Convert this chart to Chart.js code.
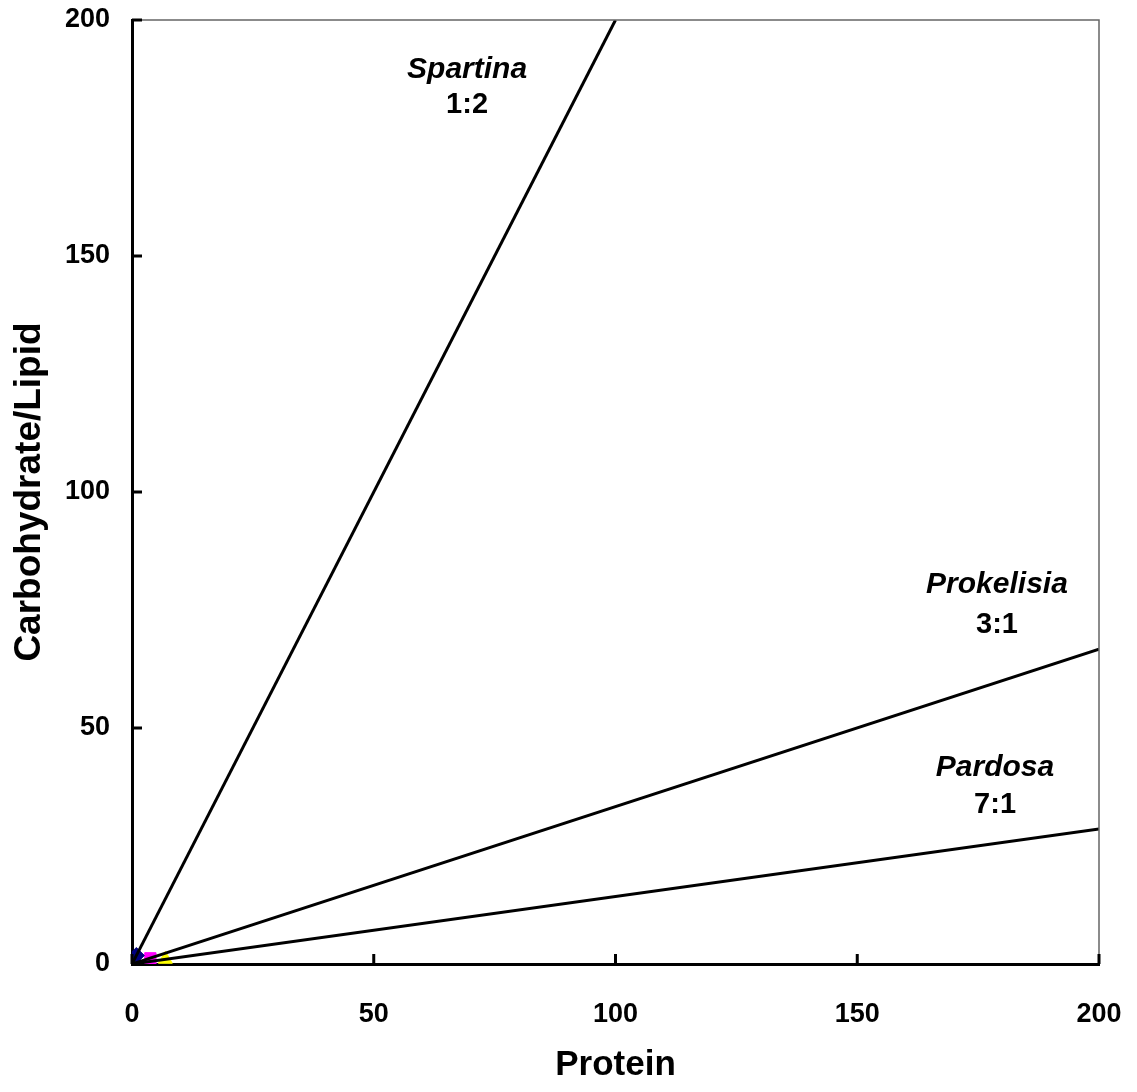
<!DOCTYPE html>
<html>
<head>
<meta charset="utf-8">
<script src="https://cdn.jsdelivr.net/npm/chart.js@4.4.1/dist/chart.umd.min.js"></script>
<style>
  html, body { margin: 0; padding: 0; background: #fff; }
  #wrap { width: 1137px; height: 1092px; }
</style>
</head>
<body>
<div id="wrap"><canvas id="ratioChart"></canvas></div>
<script>
// ratio lines: protein vs carbohydrate/lipid, from the origin out to the frame
const lineNames = ['Spartina', 'Prokelisia', 'Pardosa'];
const ratioLabels = ['1:2', '3:1', '7:1'];
const lineEndX = [100, 200, 200];
const lineEndY = [200, 66.7, 28.6];

// measured samples near the origin
const sampleX = [0.9, 3.8, 6.9];
const sampleY = [1.8, 1.2, 1.0];
const sampleColors = ['#000080', '#ff00ff', '#ffff00'];
const sampleShapes = ['rectRot', 'rect', 'triangle'];

// where the name / ratio text sits (data units)
const labelX = [69.3, 178.9, 178.5];
const nameY = [189.5, 80.3, 41.5];
const ratioY = [182, 71.8, 33.7];

const tickValues = [0, 50, 100, 150, 200];

const datasets = [];
lineNames.forEach((name, i) => {
    datasets.push({
        label: name,
        data: [{ x: 0, y: 0 }, { x: lineEndX[i], y: lineEndY[i] }],
        borderColor: '#000',
        borderWidth: 3,
        pointRadius: 0,
        showLine: true,
        order: 1
    });
});
sampleX.forEach((x, i) => {
    datasets.push({
        label: 'sample ' + (i + 1),
        data: [{ x: x, y: sampleY[i] }],
        backgroundColor: sampleColors[i],
        borderColor: sampleColors[i],
        pointStyle: sampleShapes[i],
        pointRadius: 8,
        order: 2
    });
});

// frame, inward tick marks and the line annotations
const framePlugin = {
    id: 'frame',
    afterDatasetsDraw(chart) {
        const { ctx, chartArea: a, scales: { x, y } } = chart;
        ctx.save();
        // thin top and right edges
        ctx.strokeStyle = '#666';
        ctx.lineWidth = 1.5;
        ctx.beginPath();
        ctx.moveTo(a.left, a.top);
        ctx.lineTo(a.right, a.top);
        ctx.lineTo(a.right, a.bottom);
        ctx.stroke();
        // ticks pointing into the plot
        ctx.strokeStyle = '#000';
        ctx.lineWidth = 3;
        ctx.beginPath();
        tickValues.forEach(v => {
            const px = x.getPixelForValue(v);
            ctx.moveTo(px, a.bottom);
            ctx.lineTo(px, a.bottom - 10);
            const py = y.getPixelForValue(v);
            ctx.moveTo(a.left, py);
            ctx.lineTo(a.left + 10, py);
        });
        ctx.stroke();
        // names and ratios
        ctx.fillStyle = '#000';
        ctx.textAlign = 'center';
        ctx.textBaseline = 'middle';
        lineNames.forEach((name, i) => {
            const px = x.getPixelForValue(labelX[i]);
            ctx.font = 'italic bold 30px "Liberation Sans", Arial, sans-serif';
            ctx.fillText(name, px, y.getPixelForValue(nameY[i]));
            ctx.font = 'bold 29px "Liberation Sans", Arial, sans-serif';
            ctx.fillText(ratioLabels[i], px, y.getPixelForValue(ratioY[i]));
        });
        ctx.restore();
    }
};

Chart.defaults.font.family = '"Liberation Sans", Arial, sans-serif';
Chart.defaults.color = '#000';

new Chart('ratioChart', {
    type: 'scatter',
    data: { datasets: datasets },
    options: {
        responsive: true,
        maintainAspectRatio: false,
        animation: false,
        layout: { padding: { top: 20, right: 38, left: 0, bottom: 0 } },
        plugins: {
            legend: { display: false },
            tooltip: { enabled: false }
        },
        scales: {
            x: {
                type: 'linear',
                min: 0,
                max: 200,
                grid: { display: false, drawTicks: false },
                border: { display: true, color: '#000', width: 3 },
                ticks: {
                    stepSize: 50,
                    padding: 34,
                    font: { size: 27, weight: 'bold' }
                },
                title: {
                    display: true,
                    text: 'Protein',
                    font: { size: 35, weight: 'bold' },
                    padding: { top: 0, bottom: 6 }
                },
                afterFit(scale) {
                    scale.height = 128;
                    scale.paddingLeft = 0;
                    scale.paddingRight = 0;
                }
            },
            y: {
                type: 'linear',
                min: 0,
                max: 200,
                grid: { display: false, drawTicks: false },
                border: { display: true, color: '#000', width: 3 },
                ticks: {
                    stepSize: 50,
                    padding: 22,
                    font: { size: 27, weight: 'bold' }
                },
                title: {
                    display: true,
                    text: 'Carbohydrate/Lipid',
                    font: { size: 37, weight: 'bold' },
                    padding: { top: 8, bottom: 0 }
                },
                afterFit(scale) {
                    scale.width = 132;
                    scale.paddingTop = 0;
                    scale.paddingBottom = 0;
                }
            }
        }
    },
    plugins: [framePlugin]
});
</script>
</body>
</html>
